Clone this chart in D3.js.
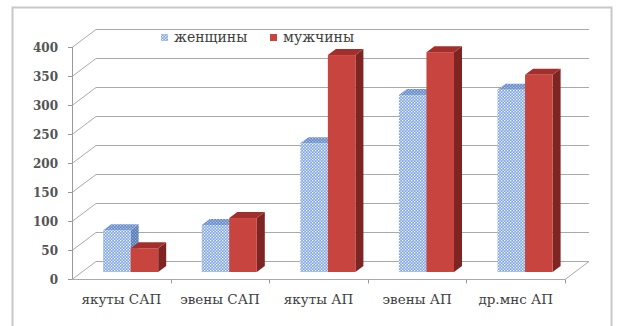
<!DOCTYPE html>
<html>
<head>
<meta charset="utf-8">
<script src="https://cdn.jsdelivr.net/npm/d3@7"></script>
<style>
  body { margin: 0; background: #fff; }
</style>
</head>
<body>
<div id="chart"></div>
<script>
const categories = ["якуты САП", "эвены САП", "якуты АП", "эвены АП", "др.мнс АП"];
const women = [72, 81, 222, 305, 314];
const men = [41, 93, 374, 379, 340];
const yTicks = [0, 50, 100, 150, 200, 250, 300, 350, 400];
const seriesNames = ["женщины", "мужчины"];

const W = 617, H = 326;
const serif = "'DejaVu Serif', serif";
// 3d box geometry
const depth = { dx: 24, dy: -18 };     // wall depth
const barShift = 0.39;                 // bars sit this far into the depth
const barDepth = { dx: 8, dy: -6 };

const svg = d3.select("#chart").append("svg")
  .attr("width", W).attr("height", H)
  .style("display", "block");

const defs = svg.append("defs");
function dotPattern(id, bg, dot) {
  const p = defs.append("pattern")
    .attr("id", id).attr("patternUnits", "userSpaceOnUse")
    .attr("width", 3).attr("height", 3);
  p.append("rect").attr("width", 3).attr("height", 3).attr("fill", bg);
  p.append("rect").attr("x", 0).attr("y", 0).attr("width", 1.3).attr("height", 1.3).attr("fill", dot);
  p.append("rect").attr("x", 1.5).attr("y", 1.5).attr("width", 1.3).attr("height", 1.3).attr("fill", dot);
}
dotPattern("blueFront", "#7fa5df", "#f2f6fd");
dotPattern("blueTop", "#6287c4", "#b3c8ea");
dotPattern("blueSide", "#5278b4", "#97b0da");

// outer frame
svg.append("rect")
  .attr("x", 12.5).attr("y", 7.5).attr("width", 599).attr("height", 330)
  .attr("fill", "none").attr("stroke", "#c8c8c8").attr("stroke-width", 2);

const x = d3.scaleBand().domain(categories).range([72, 565]);
const y = d3.scaleLinear().domain([0, 400]).range([279, 47]);
const xs = d3.scaleBand().domain(seriesNames).range([0, x.bandwidth()]).paddingOuter(0.79);

const grid = svg.append("g").attr("stroke", "#a9a9a9").attr("fill", "none").attr("stroke-width", 1);

// back wall lines + left wall diagonals
yTicks.forEach(t => {
  const yy = Math.round(y(t)) + 0.5;
  grid.append("path")
    .attr("d", `M72,${yy} L${72 + depth.dx},${yy + depth.dy} L${565 + depth.dx},${yy + depth.dy}`);
});

// floor
const y0 = Math.round(y(0)) + 0.5;
grid.append("path")
  .attr("d", `M72,${y0} L565,${y0} L${565 + depth.dx},${y0 + depth.dy}`);

// y axis
const axisG = svg.append("g").attr("stroke", "#9a9a9a");
axisG.append("line").attr("x1", 72.5).attr("x2", 72.5).attr("y1", y(400)).attr("y2", y(0));
axisG.selectAll(".yt").data(yTicks).enter().append("line")
  .attr("x1", 68).attr("x2", 72)
  .attr("y1", d => Math.round(y(d)) + 0.5).attr("y2", d => Math.round(y(d)) + 0.5);
axisG.selectAll(".xt").data(categories).enter().append("line")
  .attr("x1", d => Math.round(x(d) + x.step()) + 0.5)
  .attr("x2", d => Math.round(x(d) + x.step()) + 0.5)
  .attr("y1", y0).attr("y2", y0 + 4);

svg.selectAll(".ylab").data(yTicks).enter().append("text")
  .attr("x", 58).attr("y", d => y(d) + 4.5)
  .attr("text-anchor", "end")
  .attr("font-family", serif)
  .attr("font-size", 12).attr("font-weight", "bold").attr("fill", "#555")
  .text(d => d);

svg.selectAll(".xlab").data(categories).enter().append("text")
  .attr("x", d => x(d) + x.bandwidth() / 2).attr("y", 304)
  .attr("text-anchor", "middle")
  .attr("font-family", serif)
  .attr("font-size", 13.5).attr("fill", "#404040")
  .text(d => d);

// bars
const offX = depth.dx * barShift, offY = depth.dy * barShift;
const faces = {
  "женщины": { front: "url(#blueFront)", top: "url(#blueTop)", side: "url(#blueSide)" },
  "мужчины": { front: "#c8443f", top: "#a32f2c", side: "#7e2423" }
};
const barData = [];
categories.forEach((c, i) => {
  barData.push({ cat: c, s: "женщины", v: women[i] });
  barData.push({ cat: c, s: "мужчины", v: men[i] });
});

const bars = svg.selectAll(".bar").data(barData).enter().append("g").attr("class", "bar");
bars.each(function(d) {
  const g = d3.select(this);
  const bx = x(d.cat) + xs(d.s) + offX;
  const bw = xs.bandwidth();
  const top = y(d.v) + offY, bot = y(0) + offY;
  const f = faces[d.s];
  g.append("path").attr("fill", f.side)
    .attr("d", `M${bx + bw},${top} L${bx + bw + barDepth.dx},${top + barDepth.dy} L${bx + bw + barDepth.dx},${bot + barDepth.dy} L${bx + bw},${bot}Z`);
  g.append("path").attr("fill", f.top)
    .attr("d", `M${bx},${top} L${bx + barDepth.dx},${top + barDepth.dy} L${bx + bw + barDepth.dx},${top + barDepth.dy} L${bx + bw},${top}Z`);
  g.append("rect").attr("fill", f.front)
    .attr("x", bx).attr("y", top).attr("width", bw).attr("height", bot - top);
});

// legend
const legend = svg.append("g");
const legX = [161, 270];
seriesNames.forEach((s, i) => {
  legend.append("rect")
    .attr("x", legX[i]).attr("y", 34).attr("width", 7).attr("height", 7)
    .attr("fill", i === 0 ? "url(#blueFront)" : "#c8443f");
  legend.append("text")
    .attr("x", legX[i] + 13).attr("y", 42)
    .attr("font-family", serif)
    .attr("font-size", 14).attr("fill", "#404040")
    .text(s);
});
</script>
</body>
</html>
